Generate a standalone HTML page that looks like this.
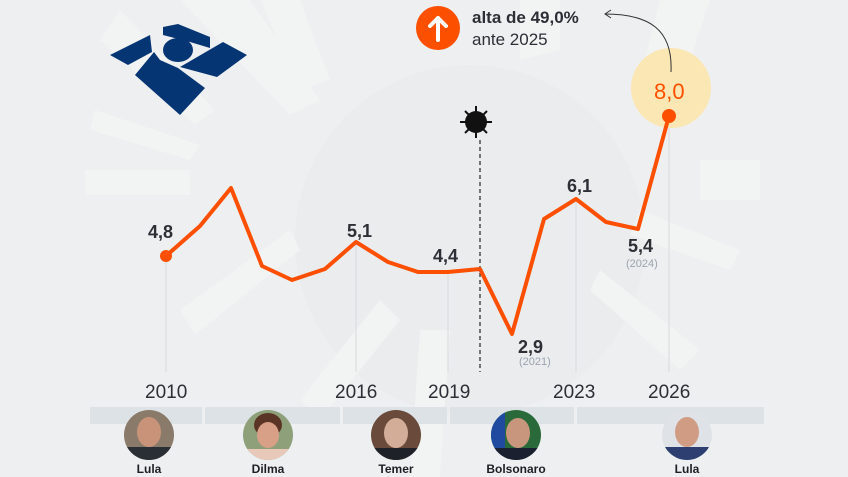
<!DOCTYPE html>
<html><head><meta charset="utf-8"><style>
html,body{margin:0;padding:0;background:#eeeff0;}
svg{display:block;font-family:"Liberation Sans",sans-serif;}
</style></head><body>
<svg width="848" height="477" viewBox="0 0 848 477" xmlns="http://www.w3.org/2000/svg">
<defs><clipPath id="c"><circle r="25"/></clipPath></defs>
<rect width="848" height="477" fill="#eeeff0"/>
<g fill="#f2f3f3">
<circle cx="470" cy="240" r="175" fill="#ebecee"/>
<polygon points="120,10 215,110 195,125 100,40"/>
<polygon points="180,0 250,0 320,100 290,115"/>
<polygon points="95,110 200,145 190,160 90,130"/>
<polygon points="85,170 190,170 190,195 85,195"/>
<polygon points="180,310 290,230 300,250 195,335"/>
<polygon points="260,0 300,0 330,80 300,90"/>
<polygon points="520,0 560,0 560,50 520,60"/>
<polygon points="660,0 710,0 680,90 640,80"/>
<polygon points="700,160 760,160 760,200 700,200"/>
<polygon points="640,210 740,250 730,270 630,235"/>
<polygon points="600,270 700,350 680,370 590,290"/>
<polygon points="300,400 380,300 400,320 320,420"/>
<polygon points="420,330 450,330 440,477 410,477"/>
</g>
<!-- logo -->
<g fill="#063573">
<polygon points="163,27 178,24 210,37 210,48 190,42 163,35"/>
<polygon points="110,55 150,35 152,52 128,65"/>
<ellipse cx="178" cy="50" rx="15" ry="12"/>
<polygon points="180,67 223,42 247,55 217,77"/>
<polygon points="154,52 135,75 180,115 205,88 178,68 160,60"/>
</g>
<!-- vertical guides -->
<g stroke="#d8dadd" stroke-width="1">
<line x1="166" y1="256" x2="166" y2="372"/>
<line x1="356" y1="242" x2="356" y2="372"/>
<line x1="448" y1="272" x2="448" y2="372"/>
<line x1="576" y1="199" x2="576" y2="372"/>
<line x1="669" y1="116" x2="669" y2="372"/>
</g>
<line x1="480" y1="140" x2="480" y2="372" stroke="#333" stroke-width="1.3" stroke-dasharray="4,3"/>
<!-- virus -->
<g fill="#111">
<circle cx="476" cy="122" r="11"/>
<g stroke="#111" stroke-width="2">
<line x1="476" y1="106" x2="476" y2="138"/><line x1="460" y1="122" x2="492" y2="122"/>
<line x1="465" y1="111" x2="487" y2="133"/><line x1="487" y1="111" x2="465" y2="133"/>
</g>
</g>
<!-- highlight -->
<circle cx="671" cy="88" r="40" fill="#fbe7b3"/>
<path d="M671 72 C 673 30, 650 14, 605 14" fill="none" stroke="#333" stroke-width="1"/>
<path d="M611 10 L605 14 L611 18" fill="none" stroke="#333" stroke-width="1"/>
<polyline fill="none" stroke="#fc5000" stroke-width="4" stroke-linejoin="round" points="166,256 200,226 231,188 262,266 292,280 325,269 356,242 388,262 418,272 448,272 480,269 512,334 544,219 576,199 606,222 638,229 669,116"/>
<circle cx="166" cy="256" r="6" fill="#fc5000"/>
<circle cx="669" cy="116" r="7" fill="#fc5000"/>
<!-- labels -->
<g fill="#2c3036" font-weight="bold" font-size="18">
<text x="148" y="238">4,8</text>
<text x="347" y="237">5,1</text>
<text x="433" y="262">4,4</text>
<text x="518" y="353">2,9</text>
<text x="567" y="192">6,1</text>
<text x="628" y="252">5,4</text>
</g>
<text x="654" y="99" fill="#fc5000" font-size="22">8,0</text>
<g fill="#9aa4b0" font-size="11">
<text x="519" y="365">(2021)</text>
<text x="626" y="267">(2024)</text>
</g>
<g fill="#2c3036" font-size="19">
<text x="145" y="398">2010</text>
<text x="335" y="398">2016</text>
<text x="428" y="398">2019</text>
<text x="553" y="398">2023</text>
<text x="648" y="398">2026</text>
</g>
<circle cx="438" cy="28" r="22" fill="#fc5000"/>
<path d="M438 40 V18 M430 26 L438 18 L446 26" stroke="#fff" stroke-width="4" fill="none" stroke-linecap="round" stroke-linejoin="round"/>
<text x="472" y="23" fill="#2c3036" font-size="17" font-weight="bold">alta de 49,0%</text>
<text x="472" y="45" fill="#2c3036" font-size="17">ante 2025</text>
<!-- bars -->
<g fill="#dde2e6">
<rect x="90" y="407" width="112" height="17"/>
<rect x="205" y="407" width="135" height="17"/>
<rect x="343" y="407" width="104" height="17"/>
<rect x="450" y="407" width="124" height="17"/>
<rect x="577" y="407" width="187" height="17"/>
</g>
<g>
<g transform="translate(149,435)"><g clip-path="url(#c)"><rect x="-25" y="-25" width="50" height="50" fill="#8a7a6a"/><ellipse cx="0" cy="-3" rx="12" ry="15" fill="#c9937a"/><rect x="-25" y="12" width="50" height="15" fill="#2a2f36"/></g></g>
<g transform="translate(268,435)"><g clip-path="url(#c)"><rect x="-25" y="-25" width="50" height="50" fill="#8ea07a"/><ellipse cx="0" cy="-10" rx="14" ry="12" fill="#5a3424"/><ellipse cx="0" cy="0" rx="11" ry="13" fill="#d8a086"/><rect x="-25" y="14" width="50" height="12" fill="#e8c8b8"/></g></g>
<g transform="translate(396,435)"><g clip-path="url(#c)"><rect x="-25" y="-25" width="50" height="50" fill="#6a4a3a"/><ellipse cx="0" cy="-2" rx="12" ry="15" fill="#d3ad98"/><rect x="-25" y="13" width="50" height="13" fill="#1e2228"/></g></g>
<g transform="translate(516,435)"><g clip-path="url(#c)"><rect x="-25" y="-25" width="50" height="50" fill="#2a6a3a"/><rect x="-25" y="-25" width="14" height="50" fill="#1f4aa0"/><ellipse cx="2" cy="-2" rx="12" ry="15" fill="#c8967c"/><rect x="-25" y="13" width="50" height="13" fill="#1a2030"/></g></g>
<g transform="translate(687,435)"><g clip-path="url(#c)"><rect x="-25" y="-25" width="50" height="50" fill="#dfe3e8"/><ellipse cx="0" cy="-3" rx="12" ry="15" fill="#d09c84"/><rect x="-25" y="12" width="50" height="15" fill="#2c3f70"/></g></g>
</g>
<g fill="#1c1f24" font-size="12" font-weight="bold" text-anchor="middle">
<text x="149" y="473">Lula</text>
<text x="268" y="473">Dilma</text>
<text x="396" y="473">Temer</text>
<text x="516" y="473">Bolsonaro</text>
<text x="687" y="473">Lula</text>
</g>
</svg>
</body></html>
